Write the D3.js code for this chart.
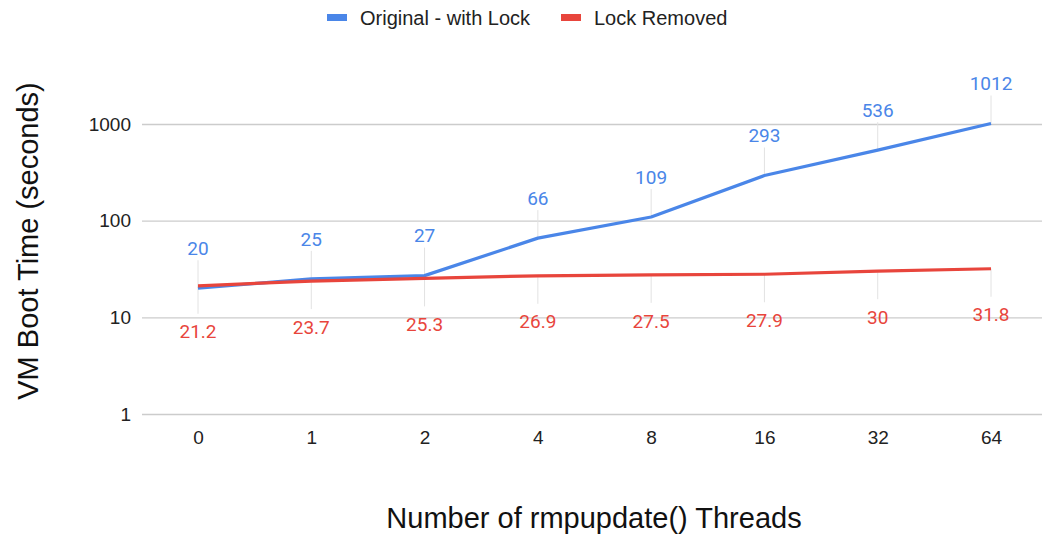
<!DOCTYPE html>
<html>
<head>
<meta charset="utf-8">
<script src="https://cdn.jsdelivr.net/npm/d3@7"></script>
<style>
  html, body { margin: 0; padding: 0; background: #fff; }
  svg { display: block; }
</style>
</head>
<body>
<svg id="chart" width="1042" height="534"></svg>
<script>
// Thread counts on the x axis
const threads = ["0", "1", "2", "4", "8", "16", "32", "64"];
// VM boot time in seconds
const withLock = [20, 25, 27, 66, 109, 293, 536, 1012];
const lockRemoved = [21.2, 23.7, 25.3, 26.9, 27.5, 27.9, 30, 31.8];
const yTicks = [1, 10, 100, 1000];
const seriesNames = ["Original - with Lock", "Lock Removed"];

const W = 1042, H = 534;
const blue = "#4a86e8", red = "#e8453c";
const labelFont = "Roboto, 'Liberation Sans', Arial, sans-serif";
const textFont = "'Liberation Sans', Arial, sans-serif";

const svg = d3.select("#chart");

const x = d3.scalePoint().domain(threads).range([198, 991]);
const y = d3.scaleLog().domain([1, 1000]).range([414, 124]);

// Horizontal gridlines + y tick labels
const yAxis = d3.axisLeft(y).tickValues(yTicks).tickFormat(d3.format("d"))
  .tickSize(-(W - 142)).tickPadding(11);
const gy = svg.append("g").attr("transform", "translate(142,0)").call(yAxis);
gy.select(".domain").remove();
gy.selectAll(".tick line").attr("stroke", "#cccccc").attr("stroke-width", 1.3);
gy.selectAll(".tick text").attr("fill", "#222").style("font-family", textFont).style("font-size", "19px");

// Category labels along the bottom
const xAxis = d3.axisBottom(x).tickSize(0).tickPadding(17);
const gx = svg.append("g").attr("transform", "translate(0,414)").call(xAxis);
gx.select(".domain").remove();
gx.selectAll(".tick text").attr("fill", "#222").style("font-family", textFont).style("font-size", "19px");

const series = [
  { name: seriesNames[0], values: withLock, color: blue, dir: -1 },
  { name: seriesNames[1], values: lockRemoved, color: red, dir: 1 }
];

const line = d3.line().x((d, i) => x(threads[i])).y(d => y(d));

// Leader lines from each point to its value label
series.forEach(s => {
  svg.append("g").selectAll("line").data(s.values).join("line")
    .attr("x1", (d, i) => x(threads[i])).attr("x2", (d, i) => x(threads[i]))
    .attr("y1", d => y(d))
    .attr("y2", d => y(d) + s.dir * 28)
    .attr("stroke", "#e2e2e2").attr("stroke-width", 1);
});

// Series lines
series.forEach(s => {
  svg.append("path").datum(s.values)
    .attr("d", line)
    .attr("fill", "none")
    .attr("stroke", s.color)
    .attr("stroke-width", 3.2)
    .attr("stroke-linejoin", "round");
});

// Value labels
series.forEach(s => {
  svg.append("g").selectAll("text").data(s.values).join("text")
    .attr("x", (d, i) => x(threads[i]))
    .attr("y", d => y(d) + (s.dir < 0 ? -40 : 46))
    .attr("dy", "0.35em")
    .attr("text-anchor", "middle")
    .attr("fill", s.color)
    .style("font-family", labelFont)
    .style("font-size", "19px")
    .text(d => d);
});

// Legend
const legendItems = [
  { name: seriesNames[0], color: blue, x: 327 },
  { name: seriesNames[1], color: red, x: 561 }
];
const lg = svg.append("g");
legendItems.forEach(it => {
  lg.append("rect").attr("x", it.x).attr("y", 14).attr("width", 20).attr("height", 7).attr("fill", it.color);
  lg.append("text").attr("x", it.x + 33).attr("y", 18).attr("dy", "0.35em")
    .attr("fill", "#222").style("font-family", textFont).style("font-size", "20px").text(it.name);
});

// Axis titles
svg.append("text").attr("x", 594).attr("y", 518).attr("dy", "0.35em")
  .attr("text-anchor", "middle").attr("fill", "#111")
  .style("font-family", textFont).style("font-size", "29px")
  .text("Number of rmpupdate() Threads");

svg.append("text")
  .attr("transform", "translate(28,241) rotate(-90)")
  .attr("dy", "0.35em")
  .attr("text-anchor", "middle").attr("fill", "#111")
  .style("font-family", textFont).style("font-size", "29px")
  .text("VM Boot Time (seconds)");
</script>
</body>
</html>
